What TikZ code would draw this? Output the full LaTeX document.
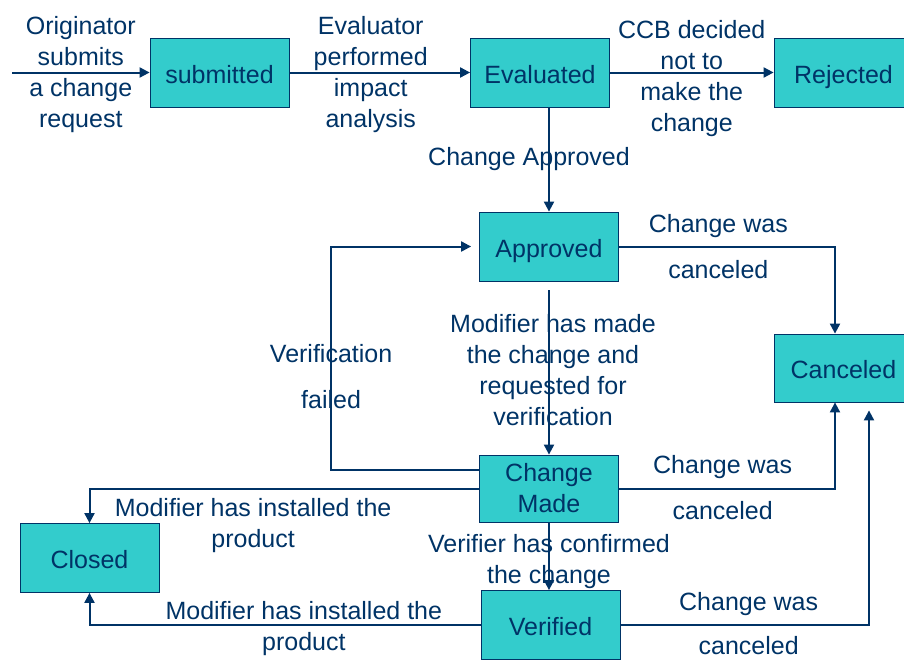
\documentclass[tikz,border=0pt]{standalone}
\usepackage{fontspec}
\setmainfont{Liberation Sans}
\usepackage{tikz}
\usetikzlibrary{arrows.meta}
\definecolor{ccbnavy}{RGB}{0,51,102}
\definecolor{ccbteal}{RGB}{51,204,204}

\begin{document}
\begin{tikzpicture}[x=0.5pt, y=-0.5pt, font=\fontsize{12.5}{15.5}\selectfont,
    state/.style={draw=ccbnavy, fill=ccbteal, text=ccbnavy, minimum width=69.5pt, minimum height=34.5pt, inner sep=0pt, align=center},
    oneline/.style={text height=10.5pt, text depth=0pt},
    flow/.style={ccbnavy, line width=1pt, -{Triangle[length=5pt,width=5pt]}},
    lbl/.style={text=ccbnavy, align=center, inner sep=0pt}]
            \useasboundingbox (0,0) rectangle (904,659);

            \node[state, oneline] (submitted) at (219.5,72.5) {submitted};
            \node[state, oneline] (evaluated) at (540,72.5) {Evaluated};
            \node[state, oneline] (rejected) at (843.5,72.5) {Rejected};
            \node[state, oneline] (approved) at (549,246.5) {Approved};
            \node[state, oneline, minimum height=34pt] (canceled) at (843.5,368) {Canceled};
            \node[state, minimum height=33.5pt] (changemade) at (549,488.5) {Change\\Made};
            \node[state, oneline] (closed) at (89.5,558) {Closed};
            \node[state, oneline] (verified) at (550.5,625) {Verified};
            \coordinate (start) at (12,72.5);

            \draw[flow] (start) -- node[lbl, yshift=-1pt]{Originator\\submits\\a change\\request} (submitted);
            \draw[flow] (submitted) -- node[lbl, pos=0.45, yshift=-1pt]{Evaluator\\performed\\impact\\analysis} (evaluated);
            \draw[flow] (evaluated) -- node[lbl, yshift=-3pt]{CCB decided\\not to\\make the\\change} (rejected);
            \draw[flow] (evaluated.south -| approved.north) -- node[lbl, xshift=-10pt]{Change Approved} (approved);
            \draw[flow] (approved) -| node[lbl, pos=0.23]{Change was\\[7.5pt]canceled} ([xshift=-4.25pt]canceled.north);
            \draw[flow, shorten <=4.5pt] (approved) -- node[lbl, xshift=2pt, yshift=-1pt]{Modifier has made\\the change and\\requested for\\verification} (changemade);
            \draw[flow, shorten >=4pt] ([yshift=9.25pt]changemade.west) -- ++(-148,0) |- node[lbl, pos=0.208]{Verification\\[7.5pt]failed} (approved.west);
            \draw[flow] (changemade) -| node[lbl, pos=0.24, yshift=0.5pt]{Change was\\[7.5pt]canceled} ([xshift=-4.25pt]canceled.south);
            \draw[flow] (changemade) -| node[lbl, below=4.5pt, pos=0.29]{Modifier has installed the\\product} (closed);
            \draw[flow] (changemade) -- node[lbl, yshift=-2.5pt]{Verifier has confirmed\\the change} (changemade.south |- verified.north);
            \draw[flow] (verified) -| node[lbl, pos=0.226, yshift=-2pt]{Modifier has installed the\\product} (closed);
            \draw[flow, shorten >=4pt] (verified) -| node[lbl, pos=0.258, yshift=0.5pt]{Change was\\[6.5pt]canceled} ([xshift=12.75pt]canceled.south);
        \end{tikzpicture}
\end{document}
